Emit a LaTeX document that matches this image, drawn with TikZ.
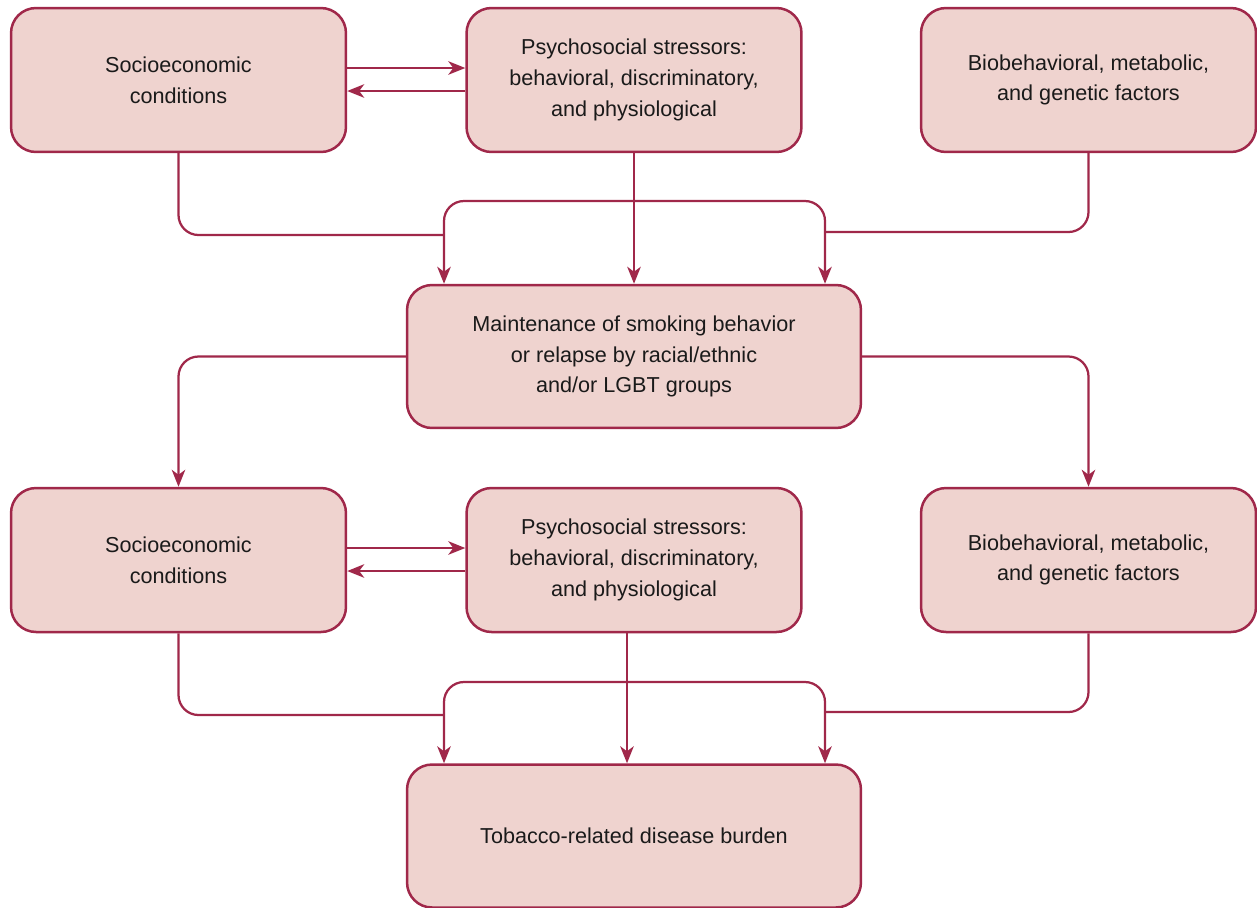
\documentclass[tikz,border=0pt]{standalone}
\usepackage{fontspec}
\setmainfont{Liberation Sans}
\usetikzlibrary{arrows.meta}
\definecolor{boxfill}{HTML}{EFD3CF}
\definecolor{boxline}{HTML}{A0284A}
\definecolor{textgray}{HTML}{1A1A1A}
\begin{document}
\begin{tikzpicture}[x=0.02cm, y=-0.02cm, >={Stealth[length=3.4mm,width=2.7mm,inset=1mm]}]

\tikzstyle{box}=[rectangle, rounded corners=0.5cm, draw=boxline, fill=boxfill, line width=0.05cm, minimum width=6.7cm, minimum height=2.88cm, align=center, text=textgray, font=\fontsize{12.3}{17.5}\selectfont]
\tikzstyle{wide}=[box, minimum width=9.08cm, minimum height=2.86cm]
\tikzstyle{link}=[draw=boxline, line width=0.045cm, rounded corners=0.4cm]

\useasboundingbox (0,0) rectangle (1257,907);

\node[box] (se1) at (178.5,80) {Socioeconomic\\conditions};
\node[box] (ps1) at (634,80) {Psychosocial stressors:\\behavioral, discriminatory,\\and physiological};
\node[box] (bb1) at (1088.5,80) {Biobehavioral, metabolic,\\and genetic factors};

\node[wide] (mnt) at (634,356.5) {Maintenance of smoking behavior\\or relapse by racial/ethnic\\and/or LGBT groups};

\node[box] (se2) at (178.5,560) {Socioeconomic\\conditions};
\node[box] (ps2) at (634,560) {Psychosocial stressors:\\behavioral, discriminatory,\\and physiological};
\node[box] (bb2) at (1088.5,560) {Biobehavioral, metabolic,\\and genetic factors};

\node[wide] (tob) at (634,836) {Tobacco-related disease burden};

\coordinate (bl1) at (444,201);
\coordinate (br1) at (825,201);
\coordinate (jl1) at (444,235);
\coordinate (jr1) at (825,232);
\coordinate (bl2) at (444,682);
\coordinate (br2) at (825,682);
\coordinate (jl2) at (444,715);
\coordinate (jr2) at (825,712);

\draw[link,->] ([yshift=0.24cm]se1.east) -- ([yshift=0.24cm]ps1.west);
\draw[link,->] ([yshift=-0.22cm]ps1.west) -- ([yshift=-0.22cm]se1.east);
\draw[link] (se1.south) |- (jl1);
\draw[link] (bb1.south) |- (jr1);
\draw[link,<->] (bl1 |- mnt.north) -- (bl1) -- (br1) -- (br1 |- mnt.north);
\draw[link,->] (ps1.south) -- (ps1.south |- mnt.north);

\draw[link,->] (mnt.west) -| (se2.north);
\draw[link,->] (mnt.east) -| (bb2.north);

\draw[link,->] ([yshift=0.24cm]se2.east) -- ([yshift=0.24cm]ps2.west);
\draw[link,->] ([yshift=-0.22cm]ps2.west) -- ([yshift=-0.22cm]se2.east);
\draw[link] (se2.south) |- (jl2);
\draw[link] (bb2.south) |- (jr2);
\draw[link,<->] (bl2 |- tob.north) -- (bl2) -- (br2) -- (br2 |- tob.north);
\draw[link,->] ([xshift=-0.14cm]ps2.south) -- ([xshift=-0.14cm]ps2.south |- tob.north);

\end{tikzpicture}
\end{document}
